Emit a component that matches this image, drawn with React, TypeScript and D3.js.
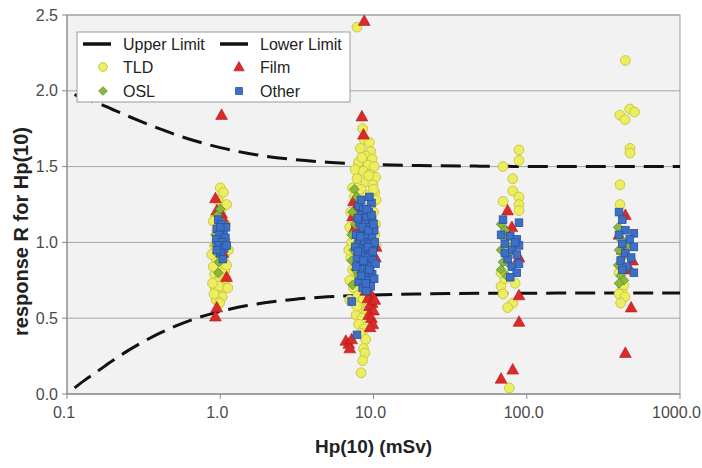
import React from "react";
import * as d3 from "d3";

const W = 702;
const H = 468;

const xTicks = [0.1, 1, 10, 100, 1000];
const xTickLabels = ["0.1", "1.0", "10.0", "100.0", "1000.0"];
const yTicks = [0, 0.5, 1, 1.5, 2, 2.5];
const yTickLabels = ["0.0", "0.5", "1.0", "1.5", "2.0", "2.5"];

const limitDose = [0.112, 0.13, 0.15, 0.2, 0.25, 0.3, 0.4, 0.5, 0.7, 1, 1.5, 2, 3, 5, 10, 20, 50, 100, 300, 1000];
const upperLimit = [1.975, 1.95, 1.93, 1.875, 1.833, 1.8, 1.75, 1.714, 1.667, 1.625, 1.588, 1.568, 1.547, 1.529, 1.515, 1.507, 1.503, 1.501, 1.5, 1.5];
const lowerLimit = [0.04, 0.09, 0.133, 0.222, 0.286, 0.333, 0.4, 0.444, 0.5, 0.545, 0.584, 0.603, 0.624, 0.641, 0.653, 0.66, 0.664, 0.665, 0.666, 0.667];

const tldPoints: [number, number][] = [
  [1.0, 1.36], [1.05, 1.33], [0.97, 1.28], [1.02, 1.22], [0.93, 1.17], [1.08, 1.12], [0.95, 1.08], [1.04, 1.04],
  [0.92, 0.98], [1.0, 0.95], [1.06, 0.92], [0.94, 0.89], [1.02, 0.86], [0.97, 0.83], [1.07, 0.81], [0.92, 0.79],
  [1.0, 0.77], [0.95, 0.74], [1.04, 0.72], [0.93, 0.7], [1.01, 0.68], [0.96, 0.66], [1.03, 0.64], [0.94, 0.62],
  [0.99, 0.6], [1.05, 0.88], [0.9, 0.84], [1.09, 0.76], [0.98, 0.71], [0.89, 0.73], [1.12, 0.7], [0.91, 0.66],
  [1.1, 0.85], [0.88, 0.92], [1.13, 0.95], [1.1, 1.25], [0.9, 1.14],
  [7.8, 2.42], [8.5, 1.75], [8.7, 1.68], [9.4, 1.66], [8.2, 1.62], [9.6, 1.6], [8.9, 1.57], [9.8, 1.55], [8.0, 1.53],
  [9.2, 1.51], [10.1, 1.5], [7.6, 1.48], [8.6, 1.47], [9.5, 1.45], [10.3, 1.43], [7.8, 1.42], [8.9, 1.4], [9.9, 1.38],
  [7.3, 1.36], [8.3, 1.35], [10.2, 1.33], [9.1, 1.31], [7.5, 1.3], [10.4, 1.28], [9.7, 1.25], [10.0, 1.2], [10.3, 1.12],
  [10.2, 1.05], [10.4, 0.98], [7.1, 1.2], [7.2, 1.0], [9.3, 1.44], [8.4, 1.56], [10.0, 1.35], [7.0, 1.1],
  [7.3, 0.82], [7.6, 0.76], [8.2, 0.72], [7.4, 0.7], [8.8, 0.68], [7.9, 0.65], [8.5, 0.62], [7.5, 0.6], [8.1, 0.57],
  [9.0, 0.55], [7.7, 0.52], [8.4, 0.5], [8.0, 0.46], [8.7, 0.43], [8.3, 0.4], [8.9, 0.36], [8.6, 0.3], [8.8, 0.27],
  [8.5, 0.22], [8.3, 0.14], [9.3, 0.74], [7.1, 0.9], [7.0, 0.75], [6.9, 0.95], [7.0, 0.62], [7.8, 0.58],
  [89, 1.61], [89, 1.54], [70, 1.5], [81, 1.42], [81, 1.34], [89, 1.3], [70, 1.27], [89, 1.25], [89, 1.21],
  [68, 0.71], [81, 0.6], [75, 0.57], [77, 0.04], [72, 0.76], [68, 0.8], [84, 0.73], [70, 0.66], [79, 0.96],
  [440, 2.2], [405, 1.84], [470, 1.88], [505, 1.86], [438, 1.81], [472, 1.62], [472, 1.59], [406, 1.38], [406, 1.25],
  [420, 0.69], [400, 0.66], [438, 0.64], [410, 0.6], [430, 0.72], [400, 0.8], [460, 1.0],
];

const filmPoints: [number, number][] = [
  [0.93, 1.29], [0.95, 1.21], [1.02, 1.19], [1.05, 1.15], [0.97, 1.07], [1.1, 0.77], [0.95, 0.57], [0.93, 0.51],
  [1.02, 1.84], [1.04, 0.93],
  [8.7, 2.46], [8.4, 1.83], [8.6, 1.71], [7.4, 1.27], [7.6, 1.22], [7.3, 1.17], [7.8, 1.13], [7.5, 1.09], [8.0, 1.25],
  [10.4, 0.97], [10.3, 0.9], [9.6, 0.66], [9.2, 0.63], [9.8, 0.6], [9.4, 0.58], [10.0, 0.55], [9.3, 0.52], [9.7, 0.5],
  [9.9, 0.46], [9.5, 0.44], [6.6, 0.35], [6.9, 0.33], [7.2, 0.36], [7.0, 0.3], [8.9, 0.68], [10.2, 0.62],
  [75, 1.21], [74, 1.07], [89, 0.9], [89, 0.65], [89, 0.475], [81, 0.16], [68, 0.1], [80, 1.1],
  [440, 1.18], [490, 0.88], [472, 0.82], [480, 0.57], [440, 0.27], [420, 0.95], [400, 1.05],
];

const oslPoints: [number, number][] = [
  [0.96, 1.18], [1.03, 1.13], [0.93, 1.05], [1.0, 1.0], [1.06, 0.97], [0.95, 0.93], [1.02, 0.9], [0.98, 0.87],
  [1.04, 1.09], [0.94, 0.98], [1.0, 1.22], [0.97, 0.8], [1.08, 1.02],
  [7.5, 1.35], [7.8, 1.3], [8.1, 1.25], [7.3, 1.2], [8.4, 1.18], [7.6, 1.12], [7.2, 1.05], [7.9, 1.0], [7.4, 0.95],
  [7.2, 0.88], [7.6, 0.82], [8.0, 0.78], [8.6, 0.93], [9.0, 1.1], [7.3, 0.72], [8.2, 0.86], [9.5, 1.2],
  [68, 1.12], [72, 1.02], [68, 0.95], [75, 0.92], [70, 0.87], [68, 0.82], [74, 0.78], [78, 0.85], [80, 0.98], [72, 1.08],
  [395, 1.1], [410, 1.02], [400, 0.95], [420, 0.9], [395, 0.85], [410, 0.78], [430, 0.75], [450, 0.98], [400, 0.73],
];

const otherPoints: [number, number][] = [
  [0.97, 1.15], [1.02, 1.12], [0.95, 1.09], [1.05, 1.07], [0.99, 1.05], [1.08, 1.03], [0.94, 1.02], [1.03, 1.0],
  [0.97, 0.98], [1.06, 0.96], [1.0, 0.93], [0.95, 0.95], [1.09, 1.1], [1.04, 0.89], [1.1, 0.98], [1.0, 1.1],
  [8.0, 1.24], [8.6, 1.22], [9.3, 1.2], [8.3, 1.18], [9.0, 1.16], [9.8, 1.15], [8.1, 1.13], [8.8, 1.12], [9.5, 1.1],
  [10.1, 1.08], [8.4, 1.07], [9.1, 1.05], [9.8, 1.03], [8.0, 1.02], [8.7, 1.0], [9.4, 0.99], [10.0, 0.97], [8.2, 0.96],
  [8.9, 0.95], [9.6, 0.93], [8.5, 0.91], [9.2, 0.9], [9.9, 0.88], [8.1, 0.87], [8.8, 0.85], [9.5, 0.84], [8.4, 0.82],
  [9.1, 0.8], [9.8, 0.79], [8.7, 0.77], [9.3, 0.75], [8.0, 0.74], [9.6, 0.71], [8.5, 0.7], [9.0, 0.68], [7.2, 0.61],
  [7.8, 0.39], [8.3, 1.28], [9.7, 1.26], [7.7, 1.05], [7.8, 0.9], [10.2, 1.0], [10.3, 0.86], [7.6, 0.97], [9.4, 1.3],
  [7.9, 1.16], [8.5, 1.1], [9.7, 1.18], [8.2, 1.04], [9.3, 1.08], [10.0, 1.12], [7.7, 0.84], [8.6, 0.88],
  [9.2, 0.97], [9.9, 0.94], [8.3, 0.78], [9.4, 0.82], [8.9, 0.73], [7.9, 0.94], [10.1, 0.76], [9.0, 1.22],
  [70, 1.15], [89, 1.13], [68, 1.05], [78, 1.04], [86, 1.02], [72, 0.99], [89, 0.98], [80, 0.95], [86, 0.92],
  [75, 0.89], [89, 0.86], [80, 0.84], [86, 0.8], [78, 0.77], [72, 0.93], [84, 1.0],
  [400, 1.2], [420, 1.15], [500, 1.06], [440, 1.08], [400, 1.05], [470, 1.02], [420, 0.99], [500, 0.97], [440, 0.93],
  [410, 0.88], [480, 0.9], [450, 0.84], [500, 0.8], [420, 0.82],
];

const FONT = "'Liberation Sans', Arial, sans-serif";

export default function App() {
  const left = 67, right = 680, top = 15, bottom = 394;
  const x = d3.scaleLog().domain([0.1, 1000]).range([left, right]);
  const y = d3.scaleLinear().domain([0, 2.5]).range([bottom, top]);

  const line = d3
    .line<number>()
    .x((_, i) => x(limitDose[i]))
    .y((d) => y(d))
    .curve(d3.curveMonotoneX);

  const tri = (cx: number, cy: number, s = 6.2) =>
    `M${cx},${cy - s}L${cx + s * 0.95},${cy + s * 0.7}L${cx - s * 0.95},${cy + s * 0.7}Z`;
  const dia = (cx: number, cy: number, s = 4.8) =>
    `M${cx},${cy - s}L${cx + s},${cy}L${cx},${cy + s}L${cx - s},${cy}Z`;
  const sq = 7.6;

  const tldFill = "#eded62", tldStroke = "#c4c43a";
  const filmFill = "#dc2a2a", filmStroke = "#b01818";
  const oslFill = "#8ab83c", oslStroke = "#5e8a2a";
  const otherFill = "#3d6fc4", otherStroke = "#2a52a0";

  const lgX = 77, lgY = 32, lgW = 273, lgH = 70;
  const rowY = [44, 67, 91];

  return (
    <svg width={W} height={H} style={{ position: "absolute", left: 0, top: 0, background: "#fff" }} fontFamily={FONT}>
      <rect x={left} y={top} width={right - left} height={bottom - top} fill="#f2f2f2" stroke="#9a9a9a" strokeWidth={1} />
      {yTicks.map((t) => (
        <line key={t} x1={left} x2={right} y1={y(t)} y2={y(t)} stroke="#a6a6a6" strokeWidth={1} />
      ))}
      <line x1={left} x2={left} y1={top} y2={bottom} stroke="#8a8a8a" />
      <line x1={left} x2={right} y1={bottom} y2={bottom} stroke="#8a8a8a" />
      {yTicks.map((t, i) => (
        <g key={"yt" + t}>
          <line x1={left - 5} x2={left} y1={y(t)} y2={y(t)} stroke="#8a8a8a" />
          <text x={left - 9} y={y(t)} dy="0.35em" textAnchor="end" fontSize={16} fill="#4a4a4a">
            {yTickLabels[i]}
          </text>
        </g>
      ))}
      {xTicks.map((t, i) => (
        <g key={"xt" + t}>
          <line x1={x(t)} x2={x(t)} y1={bottom} y2={bottom + 5} stroke="#8a8a8a" />
          <text x={i === xTicks.length - 1 ? 701 : x(t) - 3} y={bottom + 24} textAnchor={i === xTicks.length - 1 ? "end" : "middle"} fontSize={16} fill="#4a4a4a">
            {xTickLabels[i]}
          </text>
        </g>
      ))}

      <path d={line(upperLimit) || ""} fill="none" stroke="#111" strokeWidth={3} strokeDasharray="20 9" />
      <path d={line(lowerLimit) || ""} fill="none" stroke="#111" strokeWidth={3} strokeDasharray="20 9" />

      {tldPoints.map((p, i) => (
        <circle key={"t" + i} cx={x(p[0])} cy={y(p[1])} r={4.9} fill={tldFill} stroke={tldStroke} strokeWidth={0.9} />
      ))}
      {filmPoints.map((p, i) => (
        <path key={"f" + i} d={tri(x(p[0]), y(p[1]))} fill={filmFill} stroke={filmStroke} strokeWidth={0.6} />
      ))}
      {oslPoints.map((p, i) => (
        <path key={"o" + i} d={dia(x(p[0]), y(p[1]))} fill={oslFill} stroke={oslStroke} strokeWidth={0.8} />
      ))}
      {otherPoints.map((p, i) => (
        <rect key={"b" + i} x={x(p[0]) - sq / 2} y={y(p[1]) - sq / 2} width={sq} height={sq} fill={otherFill} stroke={otherStroke} strokeWidth={0.8} />
      ))}

      <rect x={lgX} y={lgY} width={lgW} height={lgH} fill="#fff" stroke="#9a9a9a" strokeWidth={1} />
      <line x1={83} x2={111} y1={rowY[0]} y2={rowY[0]} stroke="#111" strokeWidth={3.5} />
      <text x={123} y={rowY[0]} dy="0.35em" fontSize={16} fill="#222">Upper Limit</text>
      <line x1={220} x2={248} y1={rowY[0]} y2={rowY[0]} stroke="#111" strokeWidth={3.5} />
      <text x={260} y={rowY[0]} dy="0.35em" fontSize={16} fill="#222">Lower Limit</text>
      <circle cx={103} cy={rowY[1]} r={4.4} fill={tldFill} stroke={tldStroke} strokeWidth={0.9} />
      <text x={123} y={rowY[1]} dy="0.35em" fontSize={16} fill="#222">TLD</text>
      <path d={tri(239, rowY[1], 5.5)} fill={filmFill} stroke={filmStroke} strokeWidth={0.6} />
      <text x={260} y={rowY[1]} dy="0.35em" fontSize={16} fill="#222">Film</text>
      <path d={dia(103, rowY[2], 4.3)} fill={oslFill} stroke={oslStroke} strokeWidth={0.8} />
      <text x={123} y={rowY[2]} dy="0.35em" fontSize={16} fill="#222">OSL</text>
      <rect x={239 - 3.4} y={rowY[2] - 3.4} width={6.8} height={6.8} fill={otherFill} stroke={otherStroke} strokeWidth={0.8} />
      <text x={260} y={rowY[2]} dy="0.35em" fontSize={16} fill="#222">Other</text>

      <text transform={`translate(28,${(top + bottom) / 2 + 27}) rotate(-90)`} textAnchor="middle" fontSize={20} fontWeight="bold" fill="#222">
        response R for Hp(10)
      </text>
      <text x={(left + right) / 2} y={453} textAnchor="middle" fontSize={19} fontWeight="bold" fill="#222">
        Hp(10) (mSv)
      </text>
    </svg>
  );
}
